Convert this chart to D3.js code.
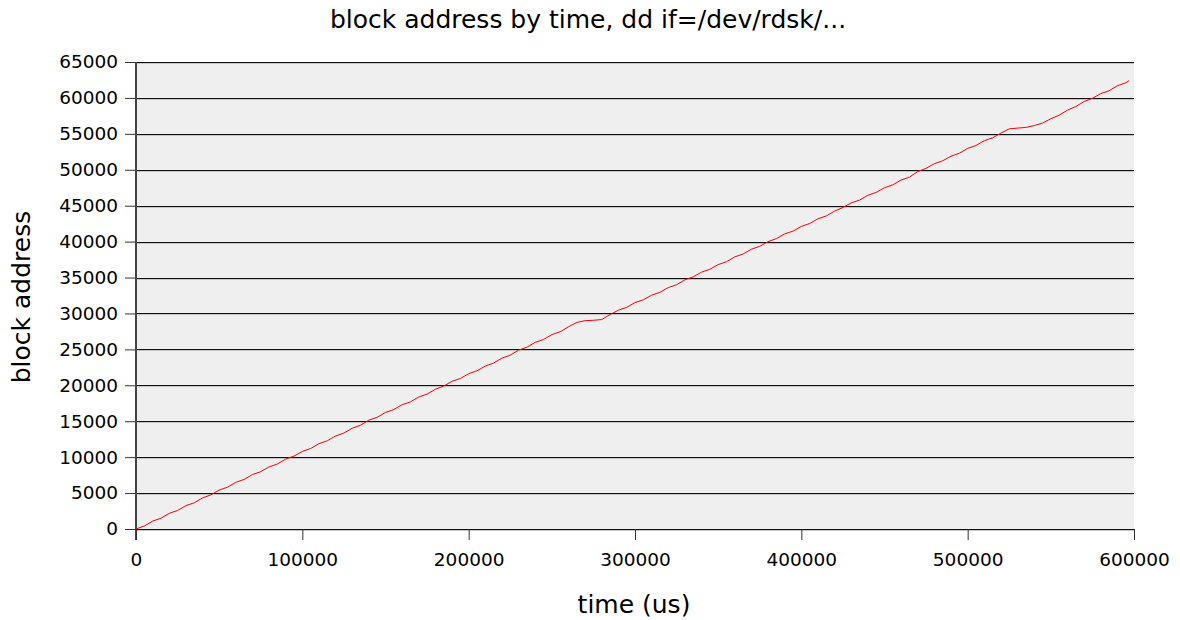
<!DOCTYPE html>
<html><head><meta charset="utf-8">
<script src="https://cdn.jsdelivr.net/npm/d3@7"></script>
<style>body{margin:0;background:#fff}svg{display:block}text{font-family:"DejaVu Sans",sans-serif;fill:#000}</style>
</head><body><svg id="c" width="1180" height="620"></svg>
<script>
const timeUs = [0,5000,10000,15000,20000,25000,30000,35000,40000,45000,50000,55000,60000,65000,70000,75000,80000,85000,90000,95000,100000,105000,110000,115000,120000,125000,130000,135000,140000,145000,150000,155000,160000,165000,170000,175000,180000,185000,190000,195000,200000,205000,210000,215000,220000,225000,230000,235000,240000,245000,250000,255000,260000,265000,270000,275000,280000,285000,290000,295000,300000,305000,310000,315000,320000,325000,330000,335000,340000,345000,350000,355000,360000,365000,370000,375000,380000,385000,390000,395000,400000,405000,410000,415000,420000,425000,430000,435000,440000,445000,450000,455000,460000,465000,470000,475000,480000,485000,490000,495000,500000,505000,510000,515000,520000,525000,530000,535000,540000,545000,550000,555000,560000,565000,570000,575000,580000,585000,590000,595000,597000];
const blockAddr = [0,420,1100,1500,2180,2580,3250,3650,4330,4750,5420,5820,6500,6900,7580,7980,8650,9050,9730,10150,10800,11200,11880,12280,12950,13350,14030,14450,15150,15550,16230,16630,17300,17700,18380,18780,19450,19900,20560,20950,21620,22020,22680,23100,23780,24200,24900,25300,25980,26380,27050,27450,28150,28750,29000,29050,29150,29850,30450,30850,31520,31900,32550,32950,33600,34000,34680,35100,35750,36150,36800,37200,37880,38280,38950,39350,40000,40420,41080,41460,42120,42520,43180,43580,44250,44750,45400,45780,46450,46850,47500,47900,48580,48980,49750,50200,50850,51250,51900,52300,52980,53380,54050,54450,55100,55700,55800,55900,56150,56500,57100,57600,58300,58800,59500,59950,60600,61000,61700,62100,62400];
const yTicks = [0,5000,10000,15000,20000,25000,30000,35000,40000,45000,50000,55000,60000,65000];
const xTicks = [0,100000,200000,300000,400000,500000,600000];
const titleText = "block address by time, dd if=/dev/rdsk/...";
const xLabel = "time (us)";
const yLabel = "block address";

const svg = d3.select("#c");
const L = 136, R = 1134, T = 62, B = 529;
const x = d3.scaleLinear().domain([0,600000]).range([L,R]);
const y = d3.scaleLinear().domain([0,65000]).range([B,T]);

svg.append("rect").attr("x",L).attr("y",T).attr("width",R-L).attr("height",B-T).attr("fill","#efefef");

// grid lines
const g = svg.append("g");
yTicks.forEach(v=>{
  g.append("line").attr("x1",L).attr("x2",R).attr("y1",Math.round(y(v))+1.5).attr("y2",Math.round(y(v))+1.5).attr("stroke","#c4c4c4").attr("stroke-width",1);
  g.append("line").attr("x1",L).attr("x2",R).attr("y1",Math.round(y(v))+0.5).attr("y2",Math.round(y(v))+0.5).attr("stroke","#111").attr("stroke-width",1);
});

// y axis
const ya = svg.append("g").attr("transform",`translate(${L},0)`)
  .call(d3.axisLeft(y).tickValues(yTicks).tickFormat(d3.format("d")).tickSize(11).tickPadding(7));
ya.select(".domain").remove();
ya.selectAll(".tick line").attr("stroke","#333");
ya.selectAll("text").style("font-size","18.5px");
svg.append("line").attr("x1",L).attr("x2",L).attr("y1",T).attr("y2",B+11).attr("stroke","#444").attr("stroke-width",2);

// x axis
const xa = svg.append("g").attr("transform",`translate(0,${B})`)
  .call(d3.axisBottom(x).tickValues(xTicks).tickFormat(d3.format("d")).tickSize(11).tickPadding(13));
xa.select(".domain").remove();
xa.selectAll(".tick line").attr("stroke","#333");
xa.selectAll("text").style("font-size","18.5px");

// data line
const line = d3.line().x((d,i)=>x(timeUs[i])).y(d=>y(d));
svg.append("path").datum(blockAddr).attr("d",line).attr("fill","none").attr("stroke","#ff0000").attr("stroke-width",1);

svg.append("text").attr("x",588).attr("y",28).attr("text-anchor","middle").style("font-size","25px").text(titleText);
svg.append("text").attr("x",634).attr("y",613).attr("text-anchor","middle").style("font-size","25px").text(xLabel);
svg.append("text").attr("transform","translate(30,297) rotate(-90)").attr("text-anchor","middle").style("font-size","25px").text(yLabel);
</script></body></html>
